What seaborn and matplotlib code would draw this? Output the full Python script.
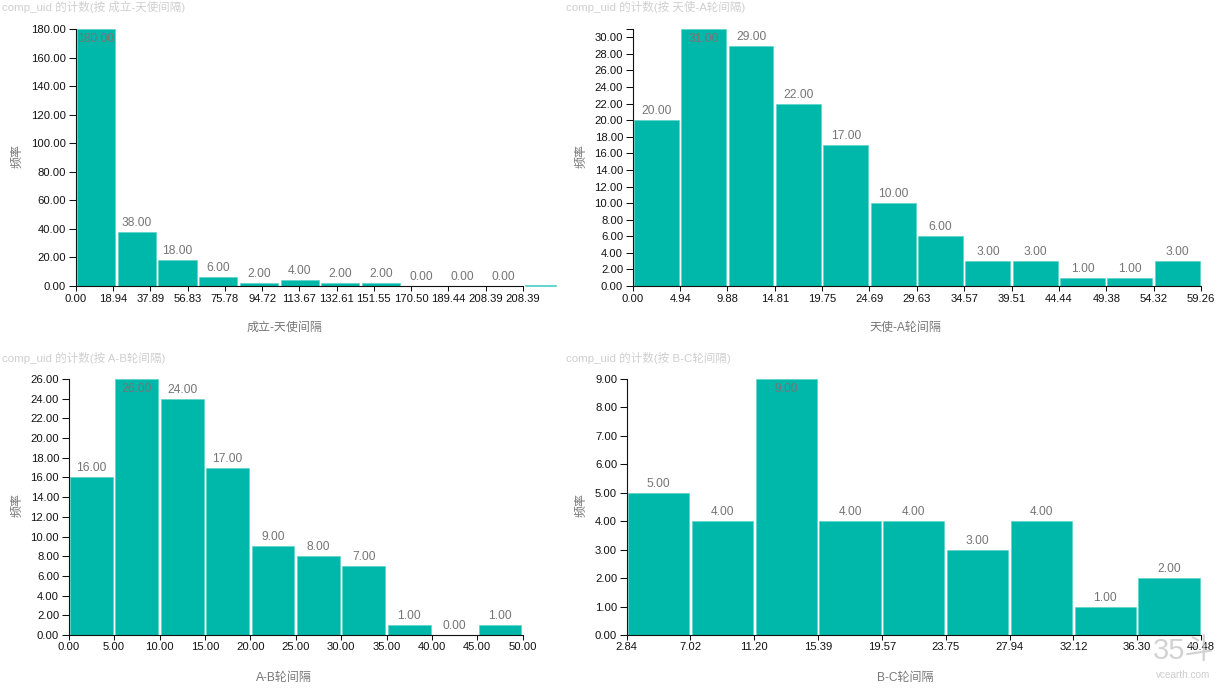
import matplotlib
matplotlib.use("Agg")
import matplotlib.pyplot as plt
import seaborn as sns

FAMILY = ['Liberation Sans', 'Noto Sans CJK SC', 'DejaVu Sans']
sns.set_theme(style="white")
plt.rcParams['font.family'] = FAMILY

W, H = 1228, 696
TEAL = "#00b8a9"
EDGE = "#55d2c6"
PX = 72 / 100

# ---- data ----
counts_a = [180, 38, 18, 6, 2, 4, 2, 2, 0, 0, 0, 1]
edges_a = [0, 20.69, 41.38, 62.07, 82.76, 103.45, 124.14, 144.83, 165.52, 186.21, 206.90, 227.59, 244.4]
ticks_a = [0, 18.94, 37.89, 56.83, 75.78, 94.72, 113.67, 132.61, 151.55, 170.50, 189.44, 208.39, 227.33]
ticklabels_a = ["0.00", "18.94", "37.89", "56.83", "75.78", "94.72", "113.67", "132.61", "151.55",
                "170.50", "189.44", "208.39", "208.39"]
yticks_a = [0, 20, 40, 60, 80, 100, 120, 140, 160, 180]

counts_b = [20, 31, 29, 22, 17, 10, 6, 3, 3, 1, 1, 3]
ticks_b = [0, 4.94, 9.88, 14.81, 19.75, 24.69, 29.63, 34.57, 39.51, 44.44, 49.38, 54.32, 59.26]
yticks_b = [0, 2, 4, 6, 8, 10, 12, 14, 16, 18, 20, 22, 24, 26, 28, 30, 31]

counts_c = [16, 26, 24, 17, 9, 8, 7, 1, 0, 1]
ticks_c = [0, 5, 10, 15, 20, 25, 30, 35, 40, 45, 50]
yticks_c = [0, 2, 4, 6, 8, 10, 12, 14, 16, 18, 20, 22, 24, 26]

counts_d = [5, 4, 9, 4, 4, 3, 4, 1, 2]
ticks_d = [2.84, 7.02, 11.20, 15.39, 19.57, 23.75, 27.94, 32.12, 36.30, 40.48]
yticks_d = [0, 1, 2, 3, 4, 5, 6, 7, 8, 9]

names = ["成立-天使间隔", "天使-A轮间隔", "A-B轮间隔", "B-C轮间隔"]

fig = plt.figure(figsize=(W / 100, H / 100), dpi=100, facecolor="white")


def fx(x):
    return x / W


def fy(y):
    return 1 - y / H


def panel(box, counts, edges, ticks, ticklabels, yticks, name, shrink, title_xy, xlabel_xy, ylabel_xy,
          n_labels=None):
    left, right, top, bottom = box
    ax = fig.add_axes([fx(left), fy(bottom), (right - left) / W, (bottom - top) / H])
    sns.histplot(x=edges[:-1], weights=counts, bins=edges, shrink=shrink, color=TEAL, alpha=1,
                 edgecolor=EDGE, linewidth=0.4, ax=ax, legend=False, clip_on=False)
    ax.set_xlim(ticks[0], ticks[-1])
    ax.set_ylim(0, yticks[-1])
    ax.set_xlabel("")
    ax.set_ylabel("")
    ax.set_xticks(ticks)
    ax.set_xticklabels(ticklabels)
    ax.set_yticks(yticks)
    ax.set_yticklabels(["" if (name == names[1] and v == 31) else f"{v:.2f}" for v in yticks])
    ax.tick_params(axis="x", length=4.5 * PX, width=0.75, pad=3 * PX, labelsize=11.3 * PX,
                   colors="#111111", bottom=True)
    ax.tick_params(axis="y", length=7 * PX, width=0.75, pad=2.5 * PX, labelsize=11.3 * PX,
                   colors="#111111", left=True)
    sns.despine(ax=ax)
    for side in ("left", "bottom"):
        ax.spines[side].set_color("#111111")
        ax.spines[side].set_linewidth(0.8)
    peak = max(counts)
    n = len(counts) if n_labels is None else n_labels
    for i, v in enumerate(counts[:n]):
        cx = (edges[i] + edges[i + 1]) / 2
        off = -10 if v == peak else 9
        ax.annotate(f"{v:.2f}", (cx, v), xytext=(0, off * PX), textcoords="offset points",
                    ha="center", va="center", fontsize=12 * PX, color="#757575", zorder=5)
    fig.text(fx(title_xy[0]), fy(title_xy[1]), f"comp_uid 的计数(按 {name})", ha="left", va="center",
             fontsize=11.5 * PX, color="#cfcfcf")
    fig.text(fx(xlabel_xy[0]), fy(xlabel_xy[1]), name, ha="center", va="center",
             fontsize=12 * PX, color="#777777")
    fig.text(fx(ylabel_xy[0]), fy(ylabel_xy[1]), "频率", ha="center", va="center", rotation=90,
             fontsize=12 * PX, color="#777777")
    return ax


fmt = [f"{t:.2f}" for t in ticks_b]
panel((75.7, 523, 29, 286), counts_a, edges_a, ticks_a, ticklabels_a, yticks_a, names[0], 0.937,
      (2, 7), (284, 328), (18, 156), n_labels=len(counts_a) - 1)
panel((632.7, 1201, 29, 286), counts_b, ticks_b, ticks_b, fmt, yticks_b, names[1], 0.948,
      (566, 7), (905, 328), (582, 156))
panel((68.7, 522.7, 379, 635), counts_c, ticks_c, ticks_c, [f"{t:.2f}" for t in ticks_c], yticks_c,
      names[2], 0.945, (2, 358), (284, 678), (18, 505))
panel((626.7, 1201, 379, 635), counts_d, ticks_d, ticks_d, [f"{t:.2f}" for t in ticks_d], yticks_d,
      names[3], 0.961, (566, 358), (905, 678), (582, 505))

# watermark
fig.text(fx(1153), fy(651), "35斗", ha="left", va="center", fontsize=29 * PX,
         color="#c4c4c4", alpha=0.75, family=['Liberation Sans', 'Noto Sans CJK SC'], zorder=10)
fig.text(fx(1183), fy(675), "vcearth.com", ha="center", va="center", fontsize=10 * PX,
         color="#c4c4c4", alpha=0.85, family=['Liberation Sans'], zorder=10)

fig.savefig("out.png", dpi=100, facecolor="white")
